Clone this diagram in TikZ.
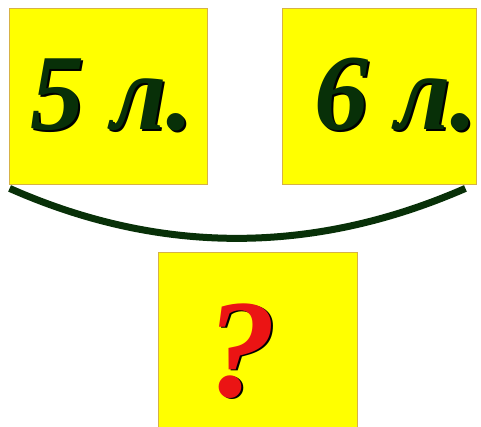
\documentclass[tikz,border=0pt]{standalone}
\usepackage{fontspec}
\setmainfont{Liberation Serif}
\usetikzlibrary{calc}
\definecolor{boxyellow}{RGB}{255,255,0}
\definecolor{boxedge}{RGB}{214,178,70}
\definecolor{darkgreen}{RGB}{8,48,8}
\definecolor{qred}{RGB}{235,20,20}
\newcommand\shadowed[2]{\rlap{\kern1.8pt\raisebox{-1.8pt}{\textcolor{black}{#2}}}\textcolor{#1}{#2}}
\tikzset{
  card/.style={draw=boxedge, line width=0.8pt, fill=boxyellow, inner sep=0pt},
  bigtext/.style={font=\fontsize{108}{108}\selectfont\bfseries\itshape, inner sep=0pt, anchor=base},
  qtext/.style={font=\fontsize{140}{140}\selectfont\bfseries\itshape, inner sep=0pt, anchor=base},
  brace/.style={draw=darkgreen, line width=7pt}
}
\begin{document}
\begin{tikzpicture}[x=1pt,y=1pt]
\useasboundingbox (0,0) rectangle (481,426);
\clip (0,0) rectangle (481,426);
\fill[white] (0,0) rectangle (481,426);
\node[card, minimum width=198pt, minimum height=176pt] (box1) at (108,330) {};
\node[card, minimum width=194pt, minimum height=176pt] (box2) at (379,330) {};
\node[card, minimum width=199pt, minimum height=175pt] (box3) at (257.5,86.5) {};
\node[bigtext] (t1) at (112,296) {\shadowed{darkgreen}{5 л.}};
\node[bigtext] (t2) at (396,296) {\shadowed{darkgreen}{6 л.}};
\node[qtext] (t3) at (241.5,30) {\shadowed{qred}{?}};
\draw[brace] ($(box1.south west)+(1,-4)$) .. controls (160,171) and (313,171) .. ($(box2.south east)+(-11,-4)$);
\end{tikzpicture}
\end{document}
